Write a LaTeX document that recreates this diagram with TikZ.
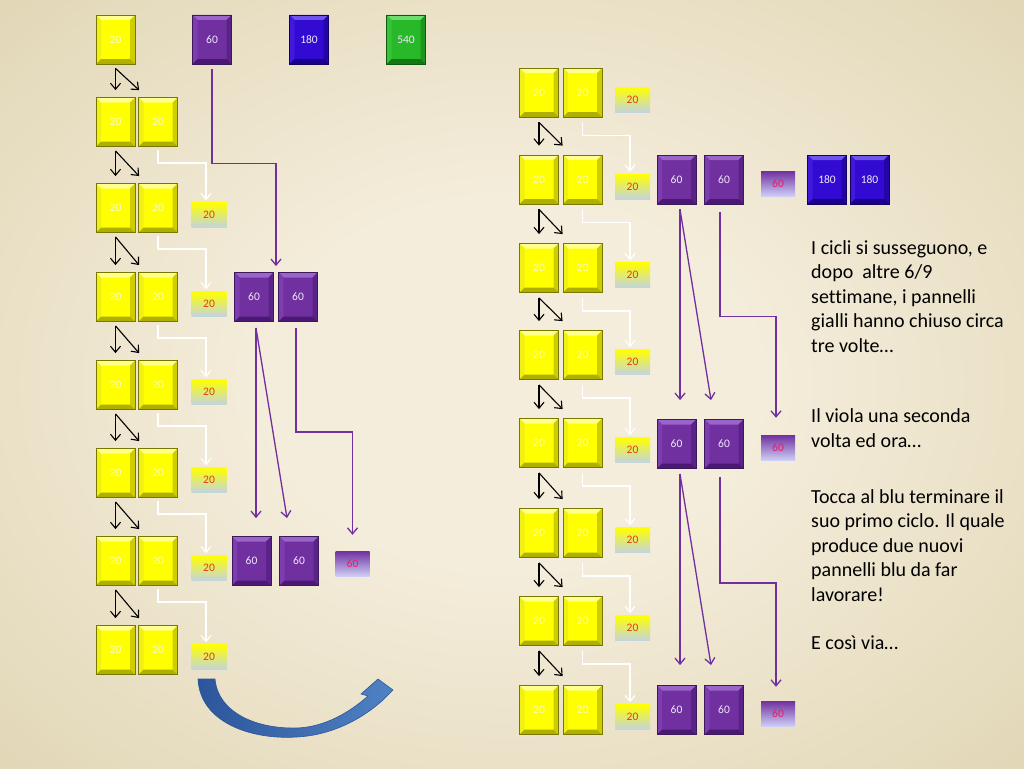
\documentclass[tikz,border=0pt]{standalone}
\usepackage{fontspec}
\setmainfont{Carlito}[Ligatures=NoCommon]
\usetikzlibrary{calc,arrows.meta}
\definecolor{bgin}{RGB}{244,237,219}
\definecolor{bgout}{RGB}{214,201,160}
\definecolor{yface}{RGB}{255,255,0}
\definecolor{ytop}{RGB}{255,255,140}
\definecolor{yleft}{RGB}{240,240,20}
\definecolor{yright}{RGB}{205,205,0}
\definecolor{ybot}{RGB}{175,175,0}
\definecolor{yedge}{RGB}{120,120,0}
\definecolor{ytext}{RGB}{250,250,200}
\definecolor{pface}{RGB}{112,48,160}
\definecolor{ptop}{RGB}{155,100,200}
\definecolor{pleft}{RGB}{125,60,175}
\definecolor{pright}{RGB}{90,35,135}
\definecolor{pbot}{RGB}{75,25,115}
\definecolor{pedge}{RGB}{60,25,90}
\definecolor{ptext}{RGB}{240,232,250}
\definecolor{bface}{RGB}{50,10,210}
\definecolor{btop}{RGB}{110,85,235}
\definecolor{bleft}{RGB}{65,25,220}
\definecolor{bright}{RGB}{35,5,170}
\definecolor{bbot}{RGB}{25,0,140}
\definecolor{bedge}{RGB}{20,0,100}
\definecolor{gface}{RGB}{40,185,40}
\definecolor{gtop}{RGB}{110,220,110}
\definecolor{gleft}{RGB}{55,195,55}
\definecolor{gright}{RGB}{30,150,30}
\definecolor{gbot}{RGB}{20,120,20}
\definecolor{gedge}{RGB}{15,90,15}
\definecolor{sbot}{RGB}{195,212,222}
\definecolor{sred}{RGB}{225,60,20}
\definecolor{qbot}{RGB}{205,205,245}
\definecolor{qred}{RGB}{230,30,100}
\definecolor{pline}{RGB}{112,48,160}
\definecolor{arrlight}{RGB}{80,130,195}
\definecolor{arrdark}{RGB}{45,85,155}
\pgfdeclareradialshading{bgshade}{\pgfpoint{0bp}{0bp}}{color(0bp)=(bgin); color(12bp)=(bgin); color(50bp)=(bgout)}
\newcommand\bvw{5pt}
\newcommand\bevelpic[4]{%
  \fill[#1] (path picture bounding box.north west) -- (path picture bounding box.north east)
    -- ([xshift=-\bvw,yshift=-\bvw]path picture bounding box.north east)
    -- ([xshift=\bvw,yshift=-\bvw]path picture bounding box.north west) -- cycle;
  \fill[#2] (path picture bounding box.north west) -- ([xshift=\bvw,yshift=-\bvw]path picture bounding box.north west)
    -- ([xshift=\bvw,yshift=\bvw]path picture bounding box.south west) -- (path picture bounding box.south west) -- cycle;
  \fill[#3] (path picture bounding box.north east) -- ([xshift=-\bvw,yshift=-\bvw]path picture bounding box.north east)
    -- ([xshift=-\bvw,yshift=\bvw]path picture bounding box.south east) -- (path picture bounding box.south east) -- cycle;
  \fill[#4] (path picture bounding box.south west) -- ([xshift=\bvw,yshift=\bvw]path picture bounding box.south west)
    -- ([xshift=-\bvw,yshift=\bvw]path picture bounding box.south east) -- (path picture bounding box.south east) -- cycle;
}
\tikzset{
  bx/.style={rectangle, inner sep=0pt, minimum width=39pt, minimum height=49pt, line width=0.8pt, font=\fontsize{11.5}{13}\selectfont},
  ybox/.style={bx, fill=yface, draw=yedge, text=ytext, path picture={\bevelpic{ytop}{yleft}{yright}{ybot}}},
  pbox/.style={bx, fill=pface, draw=pedge, text=ptext, path picture={\bevelpic{ptop}{pleft}{pright}{pbot}}},
  bbox/.style={bx, fill=bface, draw=bedge, text=ptext, path picture={\bevelpic{btop}{bleft}{bright}{bbot}}},
  gbox/.style={bx, fill=gface, draw=gedge, text=ptext, path picture={\bevelpic{gtop}{gleft}{gright}{gbot}}},
  sbox/.style={rectangle, inner sep=0pt, minimum width=35pt, minimum height=25pt, top color=yface, bottom color=sbot, text=sred, font=\fontsize{11.5}{13}\selectfont},
  qbox/.style={rectangle, inner sep=0pt, minimum width=34pt, minimum height=25pt, top color=pface, bottom color=qbot, text=qred, font=\fontsize{11.5}{13}\selectfont},
  tipv/.style={-{Straight Barb[length=6pt,width=10pt]}},
  bk/.style={draw=black, line width=1.1pt, tipv},
  wt/.style={draw=white, line width=1.2pt, tipv},
  pc/.style={draw=pline, line width=1.3pt, tipv},
  txt/.style={anchor=base west, align=left, inner sep=0pt, font=\fontsize{20}{24.4}\selectfont, text=black}
}
\begin{document}
\begin{tikzpicture}[x=1pt,y=-1pt]
\shade[shading=bgshade] (0,0) rectangle (1024,768);
\useasboundingbox (0,0) rectangle (1024,768);
% ---------- left column ----------
\node[ybox] (La1) at (115.5,39.5) {20};
\node[pbox] (TP) at (212,39.5) {60};
\node[bbox] (TB) at (309,39.5) {180};
\node[gbox] (TG) at (406,39.5) {540};
\foreach \i/\y in {2/122,3/208,4/297,5/385,6/473,7/561,8/650}{
  \node[ybox] (La\i) at (115.5,\y) {20};
  \node[ybox] (Lb\i) at (158,\y) {20};
}
\foreach \i/\y in {3/208,4/297,5/385,6/473,7/561,8/650}{
  \node[sbox] (Ls\i) at (209,\y+7) {20};
}
\node[pbox] (PL4a) at (254,297) {60};
\node[pbox] (PL4b) at (298,297) {60};
\node[pbox] (PL7a) at (251.5,561) {60};
\node[pbox] (PL7b) at (299,561) {60};
\node[qbox] (QL7) at (352.5,563.5) {60};
% ---------- right column ----------
\foreach \i/\y in {1/92.5,2/179.5,3/268,4/355,5/443,6/533,7/621,8/710}{
  \node[ybox] (Ra\i) at (539,\y) {20};
  \node[ybox] (Rb\i) at (582.5,\y) {20};
  \node[sbox] (Rs\i) at (632.5,\y+7) {20};
}
\node[pbox] (PR2a) at (676.5,179.5) {60};
\node[pbox] (PR2b) at (724,179.5) {60};
\node[qbox] (QR2) at (778,183.5) {60};
\node[bbox] (BR2a) at (827,179.5) {180};
\node[bbox] (BR2b) at (869.5,179.5) {180};
\node[pbox] (PR5a) at (676.5,444) {60};
\node[pbox] (PR5b) at (724,444) {60};
\node[qbox] (QR5) at (778,447.5) {60};
\node[pbox] (PR8a) at (676.5,710) {60};
\node[pbox] (PR8b) at (724,710) {60};
\node[qbox] (QR8) at (778,713.5) {60};
% ---------- connectors ----------
\foreach \i/\j in {1/2,2/3,3/4,4/5,5/6,6/7,7/8}{
  \draw[bk] ($(La\i.south)+(0,4)$) -- ($(La\j.north)+(0,-7)$);
  \draw[bk] ($(La\i.south)+(0,4)$) -- ($(Lb\j.north west)+(1,-7)$);
  \draw[bk] ($(Ra\i.south)+(0,5)$) -- ($(Ra\j.north)+(0,-9)$);
  \draw[bk] ($(Ra\i.south)+(0,5)$) -- ($(Rb\j.north west)+(0,-9)$);
  \draw[wt] ($(Rb\i.south)+(0,5)$) -- ++(0,13) -| ($(Rs\j.north)+(-2.5,-2)$);
}
\foreach \i/\j in {2/3,3/4,4/5,5/6,6/7,7/8}{
  \draw[wt] ($(Lb\i.south)+(0,3)$) -- ++(0,13) -| ($(Ls\j.north)+(-3,-2)$);
}
\draw[pc] ($(TP.south)+(0,5)$) -- ++(0,94) -| ($(PL4a.north east)!.5!(PL4b.north west)+(0,-6)$);
\draw[pc] ($(PL4a.south)+(2,6)$) -- ($(PL7a.north)+(4.5,-18)$);
\draw[pc] ($(PL4a.south)+(2,6)$) -- ($(PL7b.north)+(-12,-18)$);
\draw[pc] ($(PL4b.south)+(-2,6)$) -- ++(0,104) -| ($(QL7.north)+(0,-16)$);
\draw[pc] ($(PR2a.south)+(3.5,5)$) -- ($(PR5a.north)+(3.5,-19)$);
\draw[pc] ($(PR2a.south)+(3.5,5)$) -- ($(PR5b.north)+(-13,-19)$);
\draw[pc] ($(PR2b.south)+(-4,8)$) -- ++(0,104) -| ($(QR5.north)+(-2,-17)$);
\draw[pc] ($(PR5a.south)+(3.5,5)$) -- ($(PR8a.north)+(3.5,-20)$);
\draw[pc] ($(PR5a.south)+(3.5,5)$) -- ($(PR8b.north)+(-13,-20)$);
\draw[pc] ($(PR5b.south)+(-4,8)$) -- ++(0,106) -| ($(QR8.north)+(-2,-14)$);
% ---------- curved arrow ----------
\path[left color=arrdark, right color=arrlight, draw=arrdark, line width=0.6pt]
  (198,679) .. controls (200,722) and (250,740) .. (297,737)
  .. controls (335,735) and (366,716) .. (384,699)
  -- (393,690) -- (378,679) -- (361,694) -- (368,696)
  .. controls (350,712) and (325,727) .. (297,728)
  .. controls (255,729) and (218,712) .. (215,679) -- cycle;
% ---------- text (anchored at the baseline of the last line) ----------
\node[txt] (T1) at (811,352) {I cicli si susseguono, e\\dopo\ \ altre 6/9\\settimane, i pannelli\\gialli hanno chiuso circa\\tre volte…};
\node[txt] (T2) at (811,447) {Il viola una seconda\\volta ed ora…};
\node[txt] (T3) at (811,601) {Tocca al blu terminare il\\suo primo ciclo. Il quale\\produce due nuovi\\pannelli blu da far\\lavorare!};
\node[txt] (T4) at (811,649) {E così via…};
\end{tikzpicture}
\end{document}
